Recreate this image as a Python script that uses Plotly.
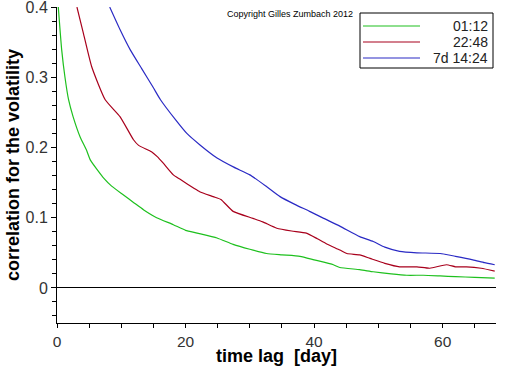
import plotly.graph_objects as go

# Data
green_t = [0.2, 0.73, 1.24, 1.8, 2.5, 3.6, 4.6, 5.2, 7.3, 8.5, 10.4, 12, 13.5, 15.5, 18.1, 20, 21.8, 24.9,
           27.4, 30, 32.6, 35, 37.8, 40, 43.0, 44, 47.1, 49.2, 52, 54.4, 57, 59.6, 62, 65, 68.1]
green_v = [0.4, 0.339, 0.30, 0.268, 0.244, 0.215, 0.196, 0.182, 0.156, 0.145, 0.132, 0.121, 0.111, 0.1,
           0.09, 0.082, 0.078, 0.071, 0.062, 0.055, 0.049, 0.047, 0.045, 0.04, 0.033, 0.029, 0.026, 0.023,
           0.02, 0.018, 0.018, 0.017, 0.016, 0.015, 0.014]

red_t = [3.1, 4.1, 5.4, 7.5, 9.8, 11.9, 12.7, 14.7, 15.6, 16.5, 18.1, 19.1, 21.3, 22.2, 24.3, 25.5, 27.4,
         30.5, 32, 34.2, 36.5, 38.8, 40.5, 41.9, 44.0, 45.1, 47.1, 48.7, 51, 53.3, 56, 58.0, 60.6, 62, 63.7,
         66, 68.1]
red_v = [0.4, 0.363, 0.315, 0.268, 0.244, 0.211, 0.203, 0.194, 0.187, 0.178, 0.161, 0.155, 0.142, 0.137,
         0.13, 0.126, 0.109, 0.099, 0.094, 0.085, 0.081, 0.078, 0.07, 0.063, 0.054, 0.049, 0.047, 0.042,
         0.035, 0.03, 0.03, 0.028, 0.033, 0.03, 0.03, 0.028, 0.024]

blue_t = [8.2, 9.8, 11.4, 13.2, 15.0, 16.1, 18.4, 20.2, 22.2, 24.9, 27.5, 30.0, 32.5, 34.7, 37, 39.3, 41.5,
          44.0, 47.1, 49.2, 51, 53.3, 56, 59.6, 62, 64.7, 66.5, 68.1]
blue_v = [0.4, 0.368, 0.339, 0.312, 0.285, 0.268, 0.240, 0.220, 0.204, 0.185, 0.172, 0.161, 0.145, 0.130,
          0.119, 0.109, 0.099, 0.088, 0.073, 0.066, 0.058, 0.052, 0.05, 0.049, 0.045, 0.040, 0.036, 0.033]

series_names = ["01:12", "22:48", "7d 14:24"]
series_colors = ["#1ec01e", "#a8001c", "#2a2ac4"]
x_ticks = [0, 20, 40, 60]
y_ticks = [0, 0.1, 0.2, 0.3, 0.4]
y_ticktext = ["0", "0.1", "0.2", "0.3", "0.4"]

FONT = "Liberation Sans, Arial, sans-serif"
W, H = 512, 366
ML, MR, MT, MB = 57, 16, 7, 43
PW, PH = W - ML - MR, H - MT - MB


def px(xp):
    return (xp - ML) / PW


def py(yp):
    return (H - MB - yp) / PH


fig = go.Figure()
for t, v, name, col in zip([green_t, red_t, blue_t], [green_v, red_v, blue_v], series_names, series_colors):
    fig.add_trace(go.Scatter(x=t, y=v, mode="lines", name=name, showlegend=False,
                             line=dict(color=col, width=1.2, shape="spline", smoothing=0.5)))

shapes = [dict(type="rect", xref="paper", yref="paper", x0=px(360), x1=px(493), y0=py(68), y1=py(13),
               line=dict(color="black", width=1), fillcolor="white", layer="above")]
annotations = [
    dict(text="Copyright Gilles Zumbach 2012", xref="paper", yref="paper",
         x=px(355), y=py(14), xanchor="right", yanchor="middle", showarrow=False,
         font=dict(size=9, family=FONT, color="black")),
    dict(text="time lag  [day]", xref="paper", yref="paper", x=px(276), y=py(356.5),
         xanchor="center", yanchor="middle", showarrow=False,
         font=dict(size=18, family=FONT, color="black", weight="bold")),
    dict(text="correlation for the volatility", xref="paper", yref="paper", x=px(13), y=py(165),
         xanchor="center", yanchor="middle", showarrow=False, textangle=-90,
         font=dict(size=18, family=FONT, color="black", weight="bold")),
]
for i, (name, col) in enumerate(zip(series_names, series_colors)):
    ly = 26 + 16 * i
    shapes.append(dict(type="line", xref="paper", yref="paper", x0=px(363), x1=px(420), y0=py(ly), y1=py(ly),
                       line=dict(color=col, width=1.2), layer="above"))
    annotations.append(dict(text=name, xref="paper", yref="paper", x=px(490), y=py(ly),
                            xanchor="right", yanchor="middle", showarrow=False,
                            font=dict(size=14, family=FONT, color="#222")))

fig.update_layout(
    width=W, height=H,
    margin=dict(l=ML, r=MR, t=MT, b=MB),
    paper_bgcolor="white", plot_bgcolor="white",
    font=dict(family=FONT, color="#222"),
    showlegend=False,
    xaxis=dict(range=[0, 68.3], tickvals=x_ticks, showgrid=False, zeroline=False, automargin=False,
               showline=True, linecolor="black", linewidth=1, ticks="outside", ticklen=4,
               tickcolor="black", tickfont=dict(size=15.5, color="#333"), ticklabeloverflow="allow",
               minor=dict(dtick=5, ticks="outside", ticklen=4, tickcolor="black", showgrid=False)),
    yaxis=dict(range=[-0.05, 0.4001], tickvals=y_ticks, ticktext=y_ticktext, automargin=False,
               showgrid=False, zeroline=True, zerolinecolor="black", zerolinewidth=1,
               showline=True, linecolor="black", linewidth=1, ticks="outside", ticklen=5,
               tickcolor="black", tickfont=dict(size=16, color="#333"), ticklabeloverflow="allow",
               minor=dict(dtick=0.02, ticks="outside", ticklen=4, tickcolor="black", showgrid=False)),
    shapes=shapes,
    annotations=annotations,
)

fig.write_html("out.html", config={"displayModeBar": False},
               post_script="document.body.style.margin='0';document.body.style.overflow='hidden';")
